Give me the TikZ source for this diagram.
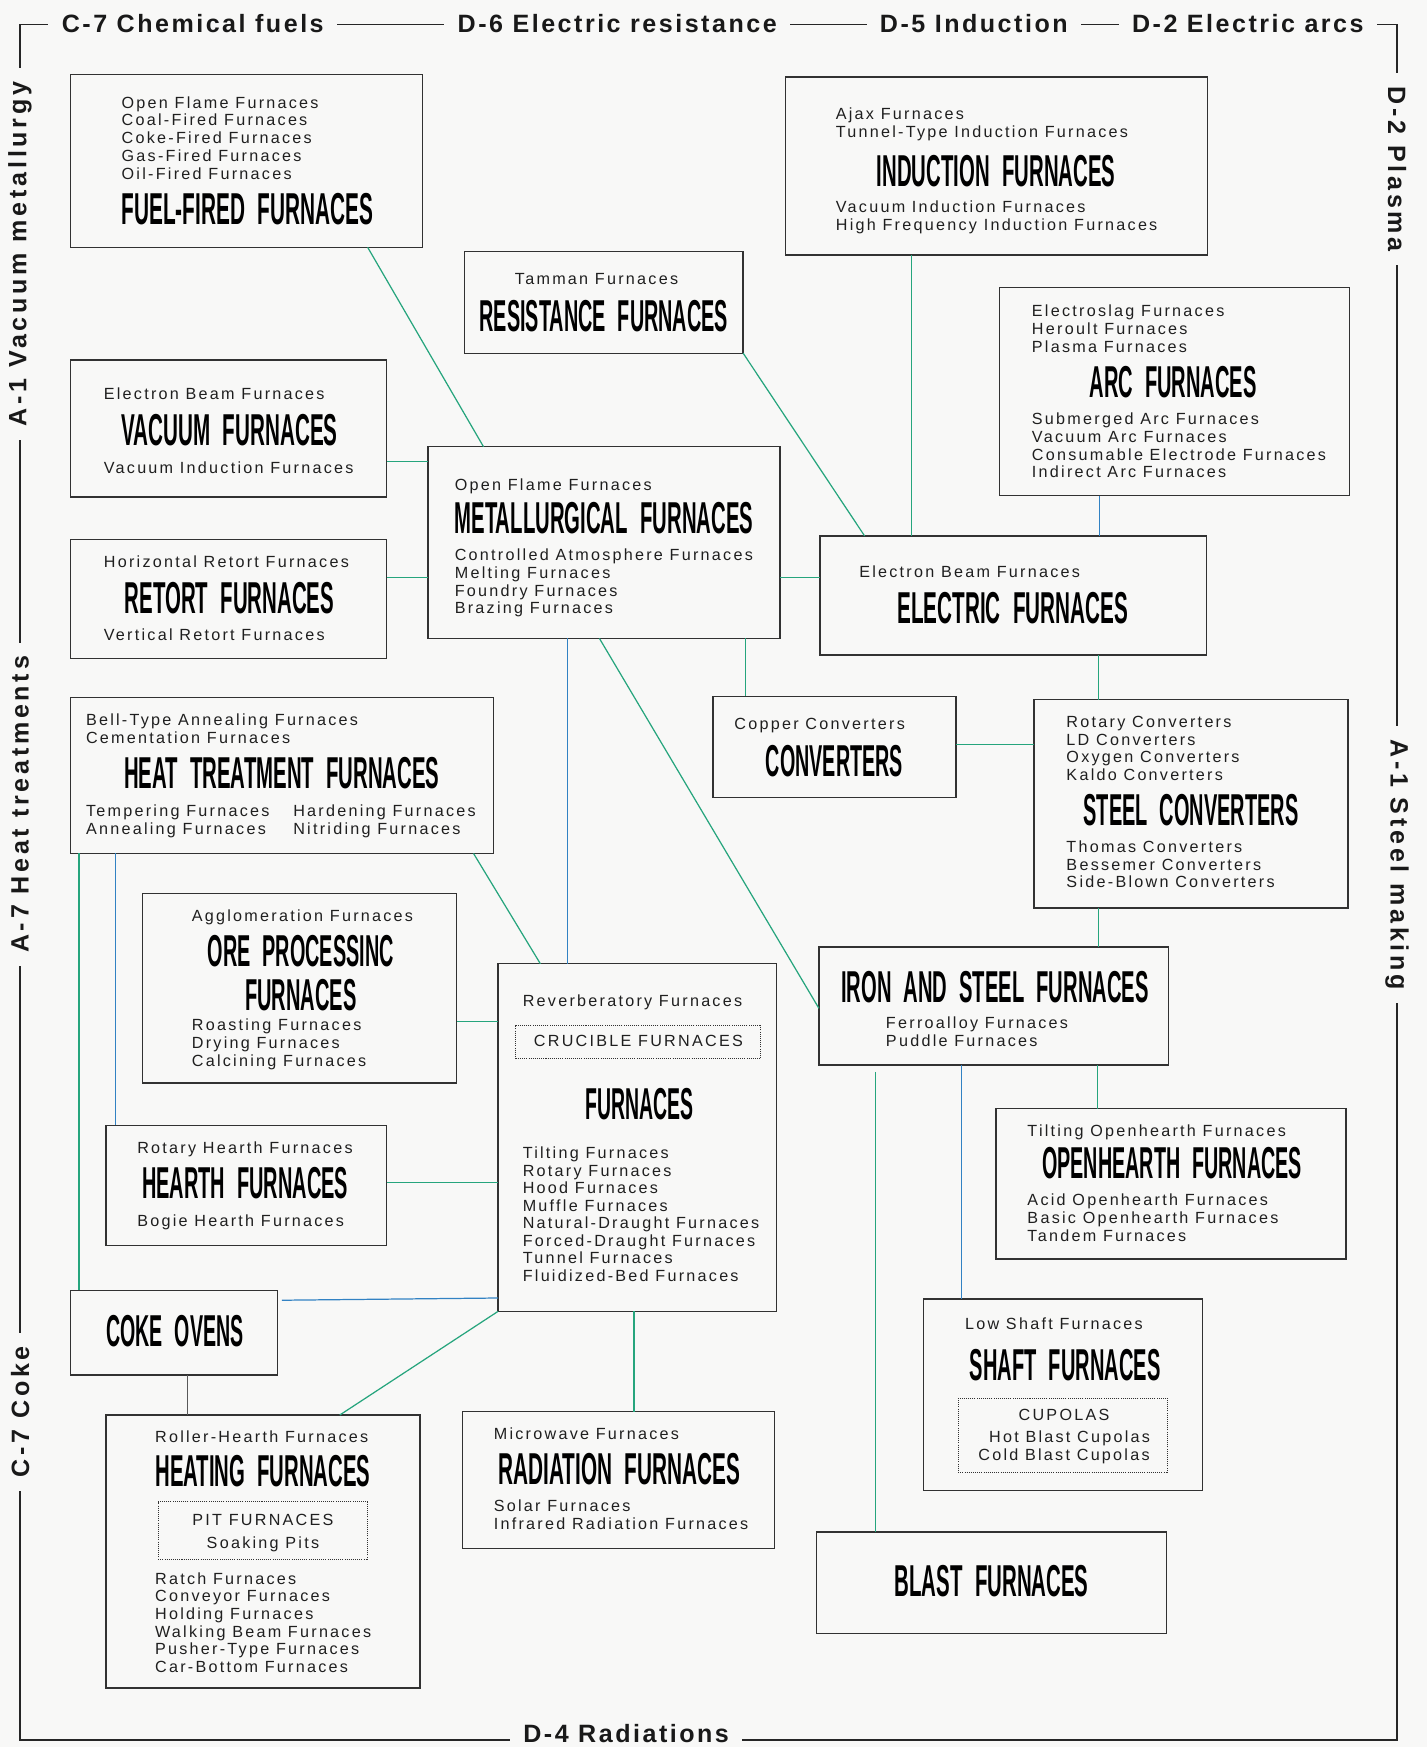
\documentclass[tikz,border=0pt]{standalone}
\usepackage{fontspec}
\setmainfont{Liberation Sans}
\newfontfamily\smf[LetterSpace=14]{Liberation Sans}
\newfontfamily\labf[LetterSpace=10]{Liberation Sans}
\newfontfamily\labvf[LetterSpace=15]{Liberation Sans}
\newfontfamily\ttlf{Liberation Sans}
\usepackage{graphicx}
\usetikzlibrary{calc}
\definecolor{bgc}{RGB}{248,248,247}
\definecolor{grn}{RGB}{38,165,125}
\definecolor{blu}{RGB}{50,130,195}
\definecolor{bxc}{RGB}{50,50,50}
\tikzset{
  furnbox/.style={draw=bxc, line width=1.2pt, inner sep=0pt, outer sep=0pt},
  dbox/.style={draw=bxc, line width=0.9pt, densely dotted, inner sep=0pt, outer sep=0pt},
  smtxt/.style={font=\smf\fontsize{14.5}{16}\selectfont, inner sep=0pt, text=black!88},
  lab/.style={font=\labf\bfseries\fontsize{22.5}{24}\selectfont, fill=bgc, inner xsep=12pt, inner ysep=3pt, text=black!90},
  labv/.style={font=\labvf\bfseries\fontsize{22.5}{24}\selectfont, fill=bgc, inner xsep=12pt, inner ysep=3pt, text=black!90},
  gl/.style={draw=grn, line width=1.1pt},
  bl/.style={draw=blu, line width=1.1pt},
  gyl/.style={draw=black!65, line width=1.0pt},
  frame/.style={draw=black!85, line width=1.6pt}
}
\newcommand\furn[5]{\node[furnbox, minimum width={#4-#2}, minimum height={#5-#3}] (#1) at ({(#2+#4)/2},{(#3+#5)/2}) {};}
\newcommand\lst[5]{\foreach \t [count=\i] in {#5} {\node[smtxt,anchor=base west] (#1\i) at (#2,{#3+#4*(\i-1)}) {\t};}}
\newcommand\ttl[5]{\node[inner sep=0pt, outer sep=0pt] (#1) at (#2,#3) {\resizebox{#4pt}{28pt}{\ttlf\bfseries\spaceskip=0.6em\relax #5}};}
\begin{document}
\begin{tikzpicture}[x=1pt,y=-1pt]
\fill[bgc] (0,0) rectangle (1281,1568);
\useasboundingbox (0,0) rectangle (1281,1568);

% frame
\draw[frame] (18,22) rectangle (1254,1562);
\node[lab] (labC7) at (173,21) {C-7 Chemical fuels};
\node[lab] (labD6) at (554,21) {D-6 Electric resistance};
\node[lab] (labD5) at (874,21) {D-5 Induction};
\node[lab] (labD2) at (1120,21) {D-2 Electric arcs};
\node[labv, rotate=-90] (labPl) at (1254,152) {D-2 Plasma};
\node[labv, rotate=-90] (labSt) at (1254,776) {A-1 Steel making};
\node[labv, rotate=90] (labVac) at (18,228) {A-1 Vacuum metallurgy};
\node[labv, rotate=90] (labHt) at (18,722) {A-7 Heat treatments};
\node[labv, rotate=90] (labCk) at (18,1267) {C-7 Coke};
\node[lab, inner ysep=1pt] (labRad) at (562,1556) {D-4 Radiations};

% boxes
\furn{fuel}{63}{67}{379}{222}
\furn{ind}{705}{69}{1084}{229}
\furn{res}{417}{226}{667}{317}
\furn{arc}{897}{258}{1211}{445}
\furn{vac}{63}{323}{347}{446}
\furn{met}{384}{401}{700}{573}
\furn{ele}{736}{481}{1083}{588}
\furn{ret}{63}{484}{347}{591}
\furn{hea}{63}{626}{443}{766}
\furn{ore}{128}{802}{410}{972}
\furn{hrt}{95}{1010}{347}{1118}
\furn{cen}{447}{865}{697}{1177}
\furn{cok}{63}{1158}{249}{1234}
\furn{htg}{95}{1270}{377}{1515}
\furn{rad}{415}{1267}{695}{1390}
\furn{cnv}{640}{625}{858}{716}
\furn{stc}{928}{628}{1210}{815}
\furn{iro}{735}{850}{1049}{956}
\furn{opn}{894}{995}{1208}{1130}
\furn{sha}{829}{1166}{1079}{1338}
\furn{bla}{733}{1375}{1047}{1466}

\node[dbox, minimum width=220, minimum height=30] (cru) at (573,935) {};
\node[dbox, minimum width=188, minimum height=52] (pit) at (236,1374) {};
\node[dbox, minimum width=188, minimum height=67] (cup) at (954,1288.5) {};

% texts
\lst{fuelt}{109}{97}{16}{Open Flame Furnaces,Coal-Fired Furnaces,Coke-Fired Furnaces,Gas-Fired Furnaces,Oil-Fired Furnaces}
\ttl{fuelT}{222}{188}{226}{FUEL-FIRED FURNACES}

\lst{indA}{750}{107}{16}{Ajax Furnaces,Tunnel-Type Induction Furnaces}
\ttl{indT}{894}{154}{214}{INDUCTION FURNACES}
\lst{indB}{750}{191}{16}{Vacuum Induction Furnaces,High Frequency Induction Furnaces}

\lst{resA}{462}{255}{16}{Tamman Furnaces}
\ttl{resT}{542}{284}{223}{RESISTANCE FURNACES}

\lst{arcA}{926}{284}{16}{Electroslag Furnaces,Heroult Furnaces,Plasma Furnaces}
\ttl{arcT}{1053}{343}{150}{ARC FURNACES}
\lst{arcB}{926}{381}{16}{Submerged Arc Furnaces,Vacuum Arc Furnaces,Consumable Electrode Furnaces,Indirect Arc Furnaces}

\lst{vacA}{93}{359}{16}{Electron Beam Furnaces}
\ttl{vacT}{206}{386}{194}{VACUUM FURNACES}
\lst{vacB}{93}{425}{16}{Vacuum Induction Furnaces}

\lst{metA}{408}{440}{16}{Open Flame Furnaces}
\ttl{metT}{542}{465}{268}{METALLURGICAL FURNACES}
\lst{metB}{408}{503}{16}{Controlled Atmosphere Furnaces,Melting Furnaces,Foundry Furnaces,Brazing Furnaces}

\lst{eleA}{771}{518}{16}{Electron Beam Furnaces}
\ttl{eleT}{909}{546}{207}{ELECTRIC FURNACES}

\lst{retA}{93}{509}{16}{Horizontal Retort Furnaces}
\ttl{retT}{206}{537}{188}{RETORT FURNACES}
\lst{retB}{93}{575}{16}{Vertical Retort Furnaces}

\lst{htA}{77}{651}{16}{Bell-Type Annealing Furnaces,Cementation Furnaces}
\ttl{htT}{253}{694}{283}{HEAT TREATMENT FURNACES}
\lst{htB}{77}{733}{16}{Tempering Furnaces,Annealing Furnaces}
\lst{htC}{263}{733}{16}{Hardening Furnaces,Nitriding Furnaces}

\lst{oreA}{172}{827}{16}{Agglomeration Furnaces}
\ttl{oreT}{270}{854}{167}{ORE PROCESSINC}
\ttl{oreU}{270}{893}{100}{FURNACES}
\lst{oreB}{172}{925}{16}{Roasting Furnaces,Drying Furnaces,Calcining Furnaces}

\lst{hrA}{123}{1035}{16}{Rotary Hearth Furnaces}
\ttl{hrT}{220}{1062}{185}{HEARTH FURNACES}
\lst{hrB}{123}{1101}{16}{Bogie Hearth Furnaces}

\lst{cenA}{469}{903}{16}{Reverberatory Furnaces}
\node[smtxt, anchor=base] (cruT) at (573,939) {CRUCIBLE FURNACES};
\ttl{cenT}{574}{991}{97}{FURNACES}
\lst{cenB}{469}{1040}{15.7}{Tilting Furnaces,Rotary Furnaces,Hood Furnaces,Muffle Furnaces,Natural-Draught Furnaces,Forced-Draught Furnaces,Tunnel Furnaces,Fluidized-Bed Furnaces}

\ttl{cokT}{157}{1195}{123}{COKE OVENS}

\lst{hgA}{139}{1295}{16}{Roller-Hearth Furnaces}
\ttl{hgT}{236}{1320}{193}{HEATING FURNACES}
\node[smtxt, anchor=base] (pitT) at (236,1369) {PIT FURNACES};
\node[smtxt, anchor=base] (pitS) at (236,1390) {Soaking Pits};
\lst{hgB}{139}{1422}{15.8}{Ratch Furnaces,Conveyor Furnaces,Holding Furnaces,Walking Beam Furnaces,Pusher-Type Furnaces,Car-Bottom Furnaces}

\lst{radA}{443}{1292}{16}{Microwave Furnaces}
\ttl{radT}{556}{1319}{217}{RADIATION FURNACES}
\lst{radB}{443}{1357}{16}{Solar Furnaces,Infrared Radiation Furnaces}

\lst{cvA}{659}{655}{16}{Copper Converters}
\ttl{cvT}{749}{683}{123}{CONVERTERS}

\lst{stA}{957}{653}{15.7}{Rotary Converters,LD Converters,Oxygen Converters,Kaldo Converters}
\ttl{stT}{1069}{727}{193}{STEEL CONVERTERS}
\lst{stB}{957}{765}{16}{Thomas Converters,Bessemer Converters,Side-Blown Converters}

\ttl{irT}{893}{886}{276}{IRON AND STEEL FURNACES}
\lst{irB}{795}{923}{16}{Ferroalloy Furnaces,Puddle Furnaces}

\lst{ohA}{922}{1020}{16}{Tilting Openhearth Furnaces}
\ttl{ohT}{1052}{1044}{233}{OPENHEARTH FURNACES}
\lst{ohB}{922}{1082}{16}{Acid Openhearth Furnaces,Basic Openhearth Furnaces,Tandem Furnaces}

\lst{shA}{866}{1193}{16}{Low Shaft Furnaces}
\ttl{shT}{956}{1225}{171}{SHAFT FURNACES}
\node[smtxt, anchor=base] (cupT) at (955,1275) {CUPOLAS};
\node[smtxt, anchor=base] (cupH) at (960,1295) {Hot Blast Cupolas};
\node[smtxt, anchor=base] (cupC) at (955,1311) {Cold Blast Cupolas};

\ttl{blT}{890}{1419}{174}{BLAST FURNACES}

% connectors
\draw[gl] ($(fuel.south west)+(267,0)$) -- ($(met.north west)+(50,0)$);
\draw[gl] ($(vac.north east)+(0,91)$) -- ($(met.north west)+(0,13)$);
\draw[gl] ($(ret.north east)+(0,34)$) -- ($(met.north west)+(0,117)$);
\draw[gl] (res.south east) -- ($(ele.north west)+(40,0)$);
\draw[gl] ($(ind.south west)+(113,0)$) -- ($(ele.north west)+(82,0)$);
\draw[bl] ($(arc.south west)+(90,0)$) -- ($(ele.north west)+(251,0)$);
\draw[gl] ($(met.north east)+(0,117)$) -- ($(ele.north west)+(0,37)$);
\draw[gl] ($(met.south west)+(285,0)$) -- ($(cnv.north west)+(29,0)$);
\draw[gl] ($(ele.south west)+(250,0)$) -- ($(stc.north west)+(58,0)$);
\draw[gl] ($(cnv.north east)+(0,43)$) -- ($(stc.north west)+(0,40)$);
\draw[bl] ($(met.south west)+(125,0)$) -- ($(cen.north west)+(62,0)$);
\draw[gl] ($(met.south west)+(154,0)$) -- ($(iro.north west)+(0,55)$);
\draw[gl] ($(hea.south west)+(362,0)$) -- ($(cen.north west)+(38,0)$);
\draw[gl] ($(hea.south west)+(8,0)$) -- ($(cok.north west)+(8,0)$);
\draw[bl] ($(hea.south west)+(41,0)$) -- ($(hrt.north west)+(9,0)$);
\draw[gl] ($(ore.north east)+(0,115)$) -- ($(cen.north west)+(0,52)$);
\draw[gl] ($(hrt.north east)+(0,51)$) -- ($(cen.north west)+(0,196)$);
\draw[bl] ($(cok.north east)+(4,9)$) -- ($(cen.north west)+(0,300)$);
\draw[gl] (cen.south west) -- ($(htg.north west)+(210,0)$);
\draw[gyl] ($(cok.south west)+(105,0)$) -- ($(htg.north west)+(73,0)$);
\draw[gl] ($(cen.south west)+(122,0)$) -- ($(rad.north west)+(154,0)$);
\draw[gl] ($(stc.south west)+(58,0)$) -- ($(iro.north west)+(251,0)$);
\draw[gl] ($(iro.south west)+(250,0)$) -- ($(opn.north west)+(91,0)$);
\draw[bl] ($(iro.south west)+(128,0)$) -- ($(sha.north west)+(34,0)$);
\draw[gl] ($(iro.south west)+(51,6)$) -- ($(bla.north west)+(53,0)$);
\end{tikzpicture}
\end{document}
